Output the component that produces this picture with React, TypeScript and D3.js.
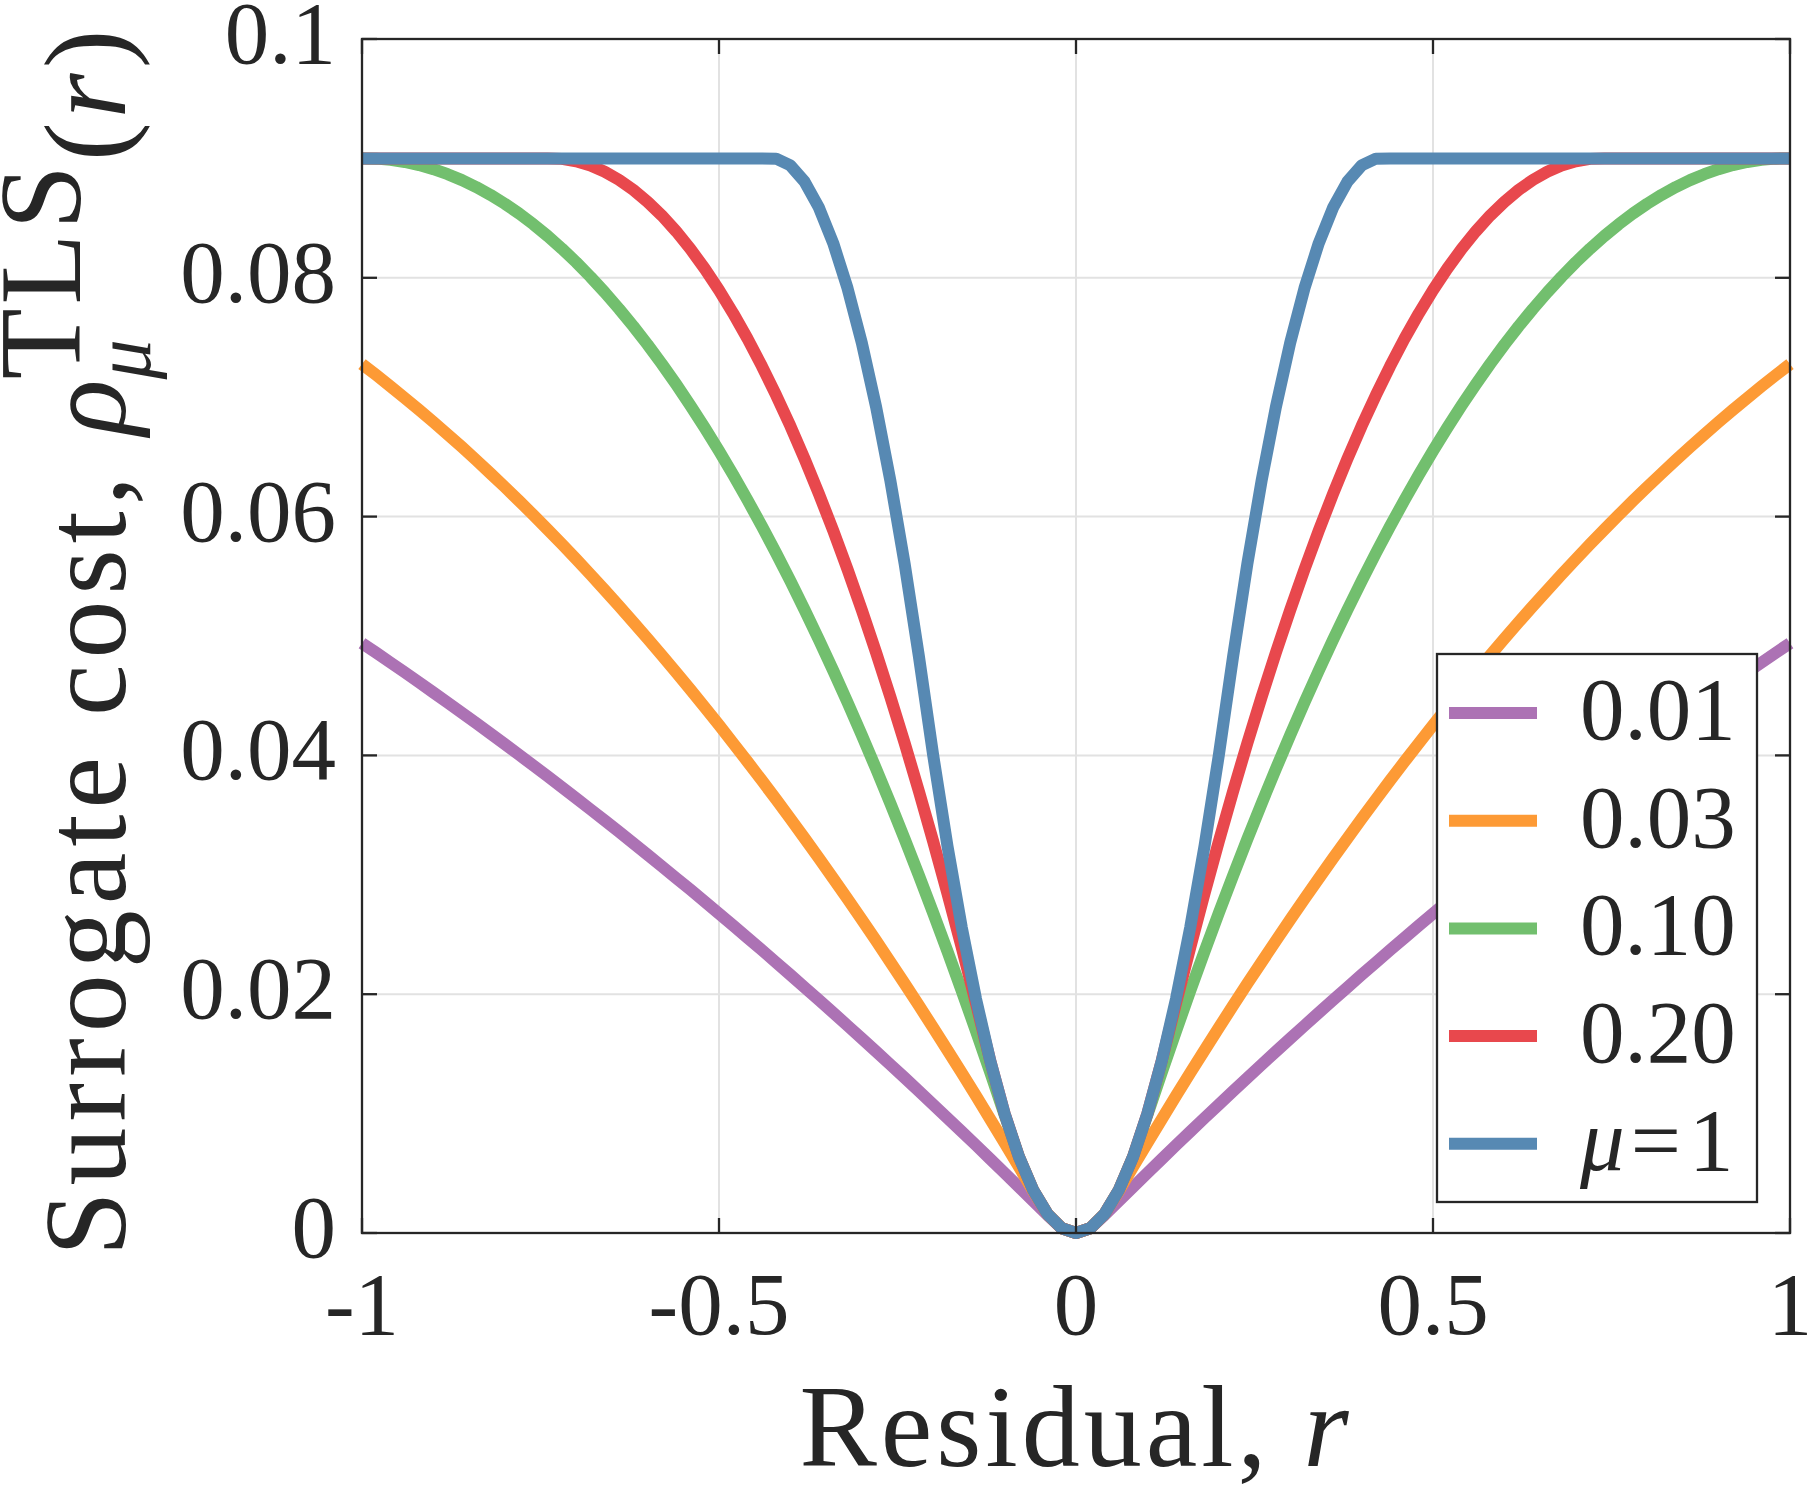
import * as d3 from "d3";

const WIDTH = 1808;
const HEIGHT = 1494;
const PLOT = { left: 362, right: 1790, top: 39, bottom: 1233 };
const FONT = "'Liberation Serif', 'DejaVu Serif', serif";
const INK = "#262626";

// residual samples (-1 : 0.02 : 1)
const RESIDUAL = [
  -1.0, -0.98, -0.96, -0.94, -0.92, -0.9, -0.88, -0.86, -0.84, -0.82,
  -0.8, -0.78, -0.76, -0.74, -0.72, -0.7, -0.68, -0.66, -0.64, -0.62,
  -0.6, -0.58, -0.56, -0.54, -0.52, -0.5, -0.48, -0.46, -0.44, -0.42,
  -0.4, -0.38, -0.36, -0.34, -0.32, -0.3, -0.28, -0.26, -0.24, -0.22,
  -0.2, -0.18, -0.16, -0.14, -0.12, -0.1, -0.08, -0.06, -0.04, -0.02,
  0,
  0.02, 0.04, 0.06, 0.08, 0.1, 0.12, 0.14, 0.16, 0.18, 0.2,
  0.22, 0.24, 0.26, 0.28, 0.3, 0.32, 0.34, 0.36, 0.38, 0.4,
  0.42, 0.44, 0.46, 0.48, 0.5, 0.52, 0.54, 0.56, 0.58, 0.6,
  0.62, 0.64, 0.66, 0.68, 0.7, 0.72, 0.74, 0.76, 0.78, 0.8,
  0.82, 0.84, 0.86, 0.88, 0.9, 0.92, 0.94, 0.96, 0.98, 1.0,
];

const COST_MU_001 = [
  0.0494, 0.04859, 0.04777, 0.04695, 0.04611, 0.04527, 0.04442, 0.04356, 0.0427, 0.04182,
  0.04094, 0.04005, 0.03915, 0.03825, 0.03733, 0.03641, 0.03548, 0.03454, 0.0336, 0.03264,
  0.03168, 0.03071, 0.02973, 0.02875, 0.02775, 0.02675, 0.02574, 0.02472, 0.0237, 0.02266,
  0.02162, 0.02057, 0.01951, 0.01845, 0.01737, 0.01629, 0.0152, 0.0141, 0.013, 0.01188,
  0.01076, 0.00963, 0.00849, 0.00735, 0.00619, 0.00503, 0.00386, 0.00268, 0.0015, 0.0004,
  0,
  0.0004, 0.0015, 0.00268, 0.00386, 0.00503, 0.00619, 0.00735, 0.00849, 0.00963, 0.01076,
  0.01188, 0.013, 0.0141, 0.0152, 0.01629, 0.01737, 0.01845, 0.01951, 0.02057, 0.02162,
  0.02266, 0.0237, 0.02472, 0.02574, 0.02675, 0.02775, 0.02875, 0.02973, 0.03071, 0.03168,
  0.03264, 0.0336, 0.03454, 0.03548, 0.03641, 0.03733, 0.03825, 0.03915, 0.04005, 0.04094,
  0.04182, 0.0427, 0.04356, 0.04442, 0.04527, 0.04611, 0.04695, 0.04777, 0.04859, 0.0494,
];

const COST_MU_003 = [
  0.07277, 0.07185, 0.0709, 0.06993, 0.06894, 0.06792, 0.06688, 0.06582, 0.06473, 0.06361,
  0.06248, 0.06132, 0.06013, 0.05892, 0.05769, 0.05643, 0.05515, 0.05384, 0.05251, 0.05116,
  0.04978, 0.04838, 0.04696, 0.04551, 0.04403, 0.04254, 0.04101, 0.03947, 0.0379, 0.03631,
  0.03469, 0.03305, 0.03138, 0.02969, 0.02798, 0.02624, 0.02448, 0.02269, 0.02089, 0.01905,
  0.01719, 0.01531, 0.01341, 0.01148, 0.00952, 0.00755, 0.00555, 0.00352, 0.0016, 0.0004,
  0,
  0.0004, 0.0016, 0.00352, 0.00555, 0.00755, 0.00952, 0.01148, 0.01341, 0.01531, 0.01719,
  0.01905, 0.02089, 0.02269, 0.02448, 0.02624, 0.02798, 0.02969, 0.03138, 0.03305, 0.03469,
  0.03631, 0.0379, 0.03947, 0.04101, 0.04254, 0.04403, 0.04551, 0.04696, 0.04838, 0.04978,
  0.05116, 0.05251, 0.05384, 0.05515, 0.05643, 0.05769, 0.05892, 0.06013, 0.06132, 0.06248,
  0.06361, 0.06473, 0.06582, 0.06688, 0.06792, 0.06894, 0.06993, 0.0709, 0.07185, 0.07277,
];

const COST_MU_010 = [
  0.09, 0.08998, 0.08988, 0.0897, 0.08944, 0.0891, 0.08868, 0.08818, 0.0876, 0.08694,
  0.0862, 0.08538, 0.08448, 0.0835, 0.08244, 0.0813, 0.08008, 0.07878, 0.0774, 0.07594,
  0.0744, 0.07278, 0.07108, 0.0693, 0.06744, 0.0655, 0.06348, 0.06138, 0.0592, 0.05694,
  0.0546, 0.05218, 0.04968, 0.0471, 0.04444, 0.0417, 0.03888, 0.03598, 0.033, 0.02994,
  0.0268, 0.02358, 0.02028, 0.0169, 0.01344, 0.0099, 0.0064, 0.0036, 0.0016, 0.0004,
  0,
  0.0004, 0.0016, 0.0036, 0.0064, 0.0099, 0.01344, 0.0169, 0.02028, 0.02358, 0.0268,
  0.02994, 0.033, 0.03598, 0.03888, 0.0417, 0.04444, 0.0471, 0.04968, 0.05218, 0.0546,
  0.05694, 0.0592, 0.06138, 0.06348, 0.0655, 0.06744, 0.0693, 0.07108, 0.07278, 0.0744,
  0.07594, 0.0774, 0.07878, 0.08008, 0.0813, 0.08244, 0.0835, 0.08448, 0.08538, 0.0862,
  0.08694, 0.0876, 0.08818, 0.08868, 0.0891, 0.08944, 0.0897, 0.08988, 0.08998, 0.09,
];

const COST_MU_020 = [
  0.09, 0.09, 0.09, 0.09, 0.09, 0.09, 0.09, 0.09, 0.09, 0.09,
  0.09, 0.09, 0.09, 0.09, 0.08996, 0.08976, 0.0894, 0.08888, 0.0882, 0.08736,
  0.08636, 0.08521, 0.08389, 0.08241, 0.08077, 0.07897, 0.07701, 0.07489, 0.07261, 0.07017,
  0.06758, 0.06482, 0.0619, 0.05882, 0.05558, 0.05218, 0.04862, 0.0449, 0.04103, 0.03699,
  0.03279, 0.02843, 0.02391, 0.01923, 0.0144, 0.01, 0.0064, 0.0036, 0.0016, 0.0004,
  0,
  0.0004, 0.0016, 0.0036, 0.0064, 0.01, 0.0144, 0.01923, 0.02391, 0.02843, 0.03279,
  0.03699, 0.04103, 0.0449, 0.04862, 0.05218, 0.05558, 0.05882, 0.0619, 0.06482, 0.06758,
  0.07017, 0.07261, 0.07489, 0.07701, 0.07897, 0.08077, 0.08241, 0.08389, 0.08521, 0.08636,
  0.08736, 0.0882, 0.08888, 0.0894, 0.08976, 0.08996, 0.09, 0.09, 0.09, 0.09,
  0.09, 0.09, 0.09, 0.09, 0.09, 0.09, 0.09, 0.09, 0.09, 0.09,
];

const COST_MU_1 = [
  0.09, 0.09, 0.09, 0.09, 0.09, 0.09, 0.09, 0.09, 0.09, 0.09,
  0.09, 0.09, 0.09, 0.09, 0.09, 0.09, 0.09, 0.09, 0.09, 0.09,
  0.09, 0.09, 0.09, 0.09, 0.09, 0.09, 0.09, 0.09, 0.09, 0.08998,
  0.08941, 0.08804, 0.08587, 0.0829, 0.07913, 0.07456, 0.06919, 0.06302, 0.05605, 0.04828,
  0.04, 0.0324, 0.0256, 0.0196, 0.0144, 0.01, 0.0064, 0.0036, 0.0016, 0.0004,
  0,
  0.0004, 0.0016, 0.0036, 0.0064, 0.01, 0.0144, 0.0196, 0.0256, 0.0324, 0.04,
  0.04828, 0.05605, 0.06302, 0.06919, 0.07456, 0.07913, 0.0829, 0.08587, 0.08804, 0.08941,
  0.08998, 0.09, 0.09, 0.09, 0.09, 0.09, 0.09, 0.09, 0.09, 0.09,
  0.09, 0.09, 0.09, 0.09, 0.09, 0.09, 0.09, 0.09, 0.09, 0.09,
  0.09, 0.09, 0.09, 0.09, 0.09, 0.09, 0.09, 0.09, 0.09, 0.09,
];

const SERIES = [COST_MU_001, COST_MU_003, COST_MU_010, COST_MU_020, COST_MU_1];
const SERIES_LABELS = ["0.01", "0.03", "0.10", "0.20", "μ=1"];
const SERIES_COLORS = ["#ac72b4", "#fd9a35", "#72bf6e", "#e8484d", "#5789b3"];

const X_TICKS = [-1, -0.5, 0, 0.5, 1];
const X_TICK_LABELS = ["-1", "-0.5", "0", "0.5", "1"];
const Y_TICKS = [0, 0.02, 0.04, 0.06, 0.08, 0.1];
const Y_TICK_LABELS = ["0", "0.02", "0.04", "0.06", "0.08", "0.1"];

export default function App() {
  const x = d3.scaleLinear().domain([-1, 1]).range([PLOT.left, PLOT.right]);
  const y = d3.scaleLinear().domain([0, 0.1]).range([PLOT.bottom, PLOT.top]);

  const line = d3
    .line<number>()
    .x((_, i) => x(RESIDUAL[i]))
    .y((d) => y(d));

  const tickLen = 15;
  const legend = { x: 1437, y: 654, w: 320, h: 548, first: 713, step: 107.7 };

  return (
    <svg
      width={WIDTH}
      height={HEIGHT}
      viewBox={`0 0 ${WIDTH} ${HEIGHT}`}
      style={{ position: "absolute", left: 0, top: 0, background: "#fff" }}
      fontFamily={FONT}
    >
      <rect x={0} y={0} width={WIDTH} height={HEIGHT} fill="#fff" />

      {/* grid */}
      {X_TICKS.map((t) => (
        <line key={`gx${t}`} x1={x(t)} x2={x(t)} y1={PLOT.top} y2={PLOT.bottom} stroke="#e2e2e2" strokeWidth={2} />
      ))}
      {Y_TICKS.map((t) => (
        <line key={`gy${t}`} x1={PLOT.left} x2={PLOT.right} y1={y(t)} y2={y(t)} stroke="#e2e2e2" strokeWidth={2} />
      ))}

      {/* curves */}
      {SERIES.map((s, i) => (
        <path
          key={SERIES_LABELS[i]}
          d={line(s) ?? ""}
          fill="none"
          stroke={SERIES_COLORS[i]}
          strokeWidth={12}
          strokeLinejoin="round"
          strokeLinecap="butt"
        />
      ))}

      {/* axes box + ticks */}
      <rect
        x={PLOT.left}
        y={PLOT.top}
        width={PLOT.right - PLOT.left}
        height={PLOT.bottom - PLOT.top}
        fill="none"
        stroke={INK}
        strokeWidth={2.3}
      />
      {X_TICKS.map((t) => (
        <g key={`tx${t}`} stroke={INK} strokeWidth={2.3}>
          <line x1={x(t)} x2={x(t)} y1={PLOT.bottom} y2={PLOT.bottom - tickLen} />
          <line x1={x(t)} x2={x(t)} y1={PLOT.top} y2={PLOT.top + tickLen} />
        </g>
      ))}
      {Y_TICKS.map((t) => (
        <g key={`ty${t}`} stroke={INK} strokeWidth={2.3}>
          <line x1={PLOT.left} x2={PLOT.left + tickLen} y1={y(t)} y2={y(t)} />
          <line x1={PLOT.right} x2={PLOT.right - tickLen} y1={y(t)} y2={y(t)} />
        </g>
      ))}

      {/* tick labels */}
      {X_TICKS.map((t, i) => (
        <text key={`lx${t}`} x={x(t)} y={1334} textAnchor="middle" fontSize={89} fill={INK}>
          {X_TICK_LABELS[i]}
        </text>
      ))}
      {Y_TICKS.map((t, i) => (
        <text key={`ly${t}`} x={336} y={y(t) + 24} textAnchor="end" fontSize={89} fill={INK}>
          {Y_TICK_LABELS[i]}
        </text>
      ))}

      {/* x label */}
      <text x={1076} y={1466} textAnchor="middle" fontSize={116} fill={INK} letterSpacing={4}>
        Residual,{" "}
        <tspan fontStyle="italic">r</tspan>
      </text>

      {/* y label */}
      <text
        transform={`translate(125,1256) rotate(-90)`}
        fontSize={116}
        fill={INK}
        style={{ whiteSpace: "pre" }}
      >
        <tspan letterSpacing={6}>{"Surrogate cost, "}</tspan>
        <tspan fontStyle="italic">ρ</tspan>
        <tspan fontStyle="italic" fontSize={80} dy={25}>μ</tspan>
        <tspan dx={-40} dy={-70} letterSpacing={4}>TLS</tspan>
        <tspan dy={45}>(</tspan>
        <tspan fontStyle="italic" dx={4}>r</tspan>
        <tspan dx={5}>)</tspan>
      </text>

      {/* legend */}
      <rect x={legend.x} y={legend.y} width={legend.w} height={legend.h} fill="#fff" stroke={INK} strokeWidth={2.3} />
      {SERIES_LABELS.map((label, i) => {
        const cy = legend.first + i * legend.step;
        return (
          <g key={`lg${label}`}>
            <line x1={1449} x2={1537} y1={cy} y2={cy} stroke={SERIES_COLORS[i]} strokeWidth={12} />
            <text x={1580} y={cy + 26} fontSize={89} fill={INK}>
              {label.startsWith("μ") ? (
                <>
                  <tspan fontStyle="italic">μ</tspan>
                  <tspan dx={6}>=</tspan>
                  <tspan dx={8}>1</tspan>
                </>
              ) : (
                label
              )}
            </text>
          </g>
        );
      })}
    </svg>
  );
}
